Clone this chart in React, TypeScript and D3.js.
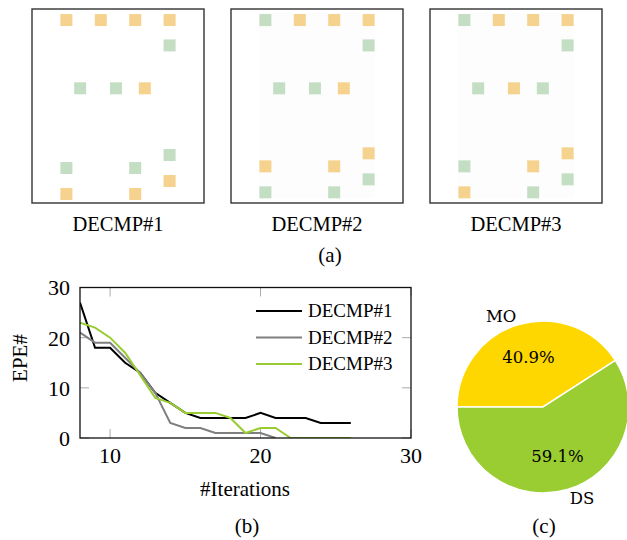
import React from 'react';
import * as d3 from 'd3';

// ---- data ----
// panel squares: [column, row, kind] with kind 'o' = orange, 'g' = green
const panel1 = [
  [1, 0.85, 'o'], [2, 0.85, 'o'], [3, 0.85, 'o'], [4, 0.85, 'o'],
  [4, 2.8, 'g'],
  [1.4, 6.1, 'g'], [2.44, 6.1, 'g'], [3.28, 6.1, 'o'],
  [4, 11.23, 'g'],
  [1, 12.23, 'g'], [3, 12.23, 'g'],
  [4, 13.23, 'o'],
  [1, 14.23, 'o'], [3, 14.23, 'o'],
];
const panel2 = [
  [1, 0.85, 'g'], [2, 0.85, 'o'], [3, 0.85, 'o'], [4, 0.85, 'o'],
  [4, 2.8, 'g'],
  [1.4, 6.1, 'g'], [2.44, 6.1, 'g'], [3.28, 6.1, 'o'],
  [4, 11.1, 'o'],
  [1, 12.1, 'o'], [3, 12.1, 'o'],
  [4, 13.1, 'g'],
  [1, 14.1, 'g'], [3, 14.1, 'g'],
];
const panel3 = [
  [1, 0.85, 'g'], [2, 0.85, 'o'], [3, 0.85, 'o'], [4, 0.85, 'o'],
  [4, 2.8, 'g'],
  [1.4, 6.1, 'g'], [2.44, 6.1, 'o'], [3.28, 6.1, 'g'],
  [4, 11.1, 'o'],
  [1, 12.1, 'g'], [3, 12.1, 'o'],
  [4, 13.1, 'g'],
  [1, 14.1, 'o'], [3, 14.1, 'g'],
];
const panelNames = ['DECMP#1', 'DECMP#2', 'DECMP#3'];

const iterations = [8, 9, 10, 11, 12, 13, 14, 15, 16, 17, 18, 19, 20, 21, 22, 23, 24, 25, 26];
const decmp1 = [27, 18, 18, 15, 13, 9, 7, 5, 4, 4, 4, 4, 5, 4, 4, 4, 3, 3, 3];
const decmp2 = [21, 19, 19, 16, 13, 9, 3, 2, 2, 1, 1, 1, 1, 0];
const decmp3 = [23, 22, 20, 17, 12.5, 8, 7, 5, 5, 5, 4, 1, 2, 2, 0, 0, 0, 0, 0];
const xTicks = [10, 20, 30];
const yTicks = [0, 10, 20, 30];

const pieLabels = ['MO', 'DS'];
const pieValues = [40.9, 59.1];

const serif = { fontFamily: 'Liberation Serif, Times New Roman, serif' };
const pieFont = { fontFamily: 'DejaVu Serif, serif' };
const sqColor = { o: '#f5d38e', g: '#c4dec4' };

const Panel = ({ left, data, name, shade }) => {
  const w = 172, h = 194, top = 9;
  const x = d3.scaleLinear().domain([0, 5]).range([0, w]);
  const y = d3.scaleLinear().domain([0, 14.92]).range([0, h]);
  const s = 12;
  return (
    <g transform={`translate(${left},${top})`}>
      <rect width={w} height={h} fill="#fff" stroke="#333" strokeWidth={1.4} />
      {shade && <rect x={x(0.81)} y={4} width={x(4.19) - x(0.81)} height={185} fill="#fdfdfd" />}
      {data.map((d, i) => (
        <rect key={i} x={x(d[0]) - s / 2} y={y(d[1]) - s / 2} width={s} height={s} fill={sqColor[d[2]]} />
      ))}
      <text x={w / 2} y={222} textAnchor="middle" style={serif} fontSize={20.5}>{name}</text>
    </g>
  );
};

const App = () => {
  // line chart
  const x = d3.scaleLinear().domain([8, 30]).range([80, 411]);
  const y = d3.scaleLinear().domain([0, 30]).range([438, 287.5]);
  const line = d3.line().x(d => x(d[0])).y(d => y(d[1]));
  const series = [
    { name: 'DECMP#1', vals: decmp1, color: '#000000' },
    { name: 'DECMP#2', vals: decmp2, color: '#7f7f7f' },
    { name: 'DECMP#3', vals: decmp3, color: '#99cc33' },
  ];
  const tickLen = 9;

  // pie chart
  const cx = 543, cy = 407, r = 86;
  const pie = d3.pie().sort(null).startAngle(-Math.PI / 2).endAngle(1.5 * Math.PI);
  const arcs = pie(pieValues);
  const arc = d3.arc().innerRadius(0).outerRadius(r);
  const pctArc = d3.arc().innerRadius(r * 0.6).outerRadius(r * 0.6);
  const lblArc = d3.arc().innerRadius(r * 1.1).outerRadius(r * 1.1);
  const pieColors = ['#ffd700', '#9acd32'];

  return (
    <svg width={627} height={540} style={{ position: 'absolute', left: 0, top: 0, background: '#fff' }}>
      {[panel1, panel2, panel3].map((p, i) => (
        <Panel key={i} left={[32, 231, 430][i]} data={p} name={panelNames[i]} shade={i > 0} />
      ))}
      <text x={330} y={262} textAnchor="middle" style={serif} fontSize={21}>(a)</text>

      {/* line chart */}
      <defs>
        <clipPath id="plotClip">
          <rect x={80} y={287.5} width={331} height={150.5} />
        </clipPath>
      </defs>
      {xTicks.map(t => (
        <g key={'x' + t}>
          <line x1={x(t)} x2={x(t)} y1={438} y2={438 - tickLen} stroke="#aaa" />
          <line x1={x(t)} x2={x(t)} y1={287.5} y2={287.5 + tickLen} stroke="#aaa" />
          <text x={x(t)} y={463} textAnchor="middle" style={serif} fontSize={22}>{t}</text>
        </g>
      ))}
      {yTicks.map(t => (
        <g key={'y' + t}>
          <line x1={80} x2={80 + tickLen} y1={y(t)} y2={y(t)} stroke="#aaa" />
          <line x1={411} x2={411 - tickLen} y1={y(t)} y2={y(t)} stroke="#aaa" />
          <text x={70} y={y(t)} dy="0.36em" textAnchor="end" style={serif} fontSize={22}>{t}</text>
        </g>
      ))}
      <g clipPath="url(#plotClip)">
        {series.map(s => (
          <path key={s.name} d={line(s.vals.map((v, i) => [iterations[i], v]))} fill="none" stroke={s.color} strokeWidth={2} />
        ))}
      </g>
      <rect x={80} y={287.5} width={331} height={150.5} fill="none" stroke="#111" strokeWidth={1.3} />
      {series.map((s, i) => (
        <g key={'lg' + i} transform={`translate(256,${311 + i * 26.5})`}>
          <line x1={0} x2={46} stroke={s.color} strokeWidth={2} />
          <text x={52} dy="0.33em" style={serif} fontSize={19}>{s.name}</text>
        </g>
      ))}
      <text transform="translate(27,358) rotate(-90)" textAnchor="middle" style={serif} fontSize={21}>EPE#</text>
      <text x={245} y={496} textAnchor="middle" style={serif} fontSize={21}>#Iterations</text>
      <text x={247} y={533} textAnchor="middle" style={serif} fontSize={21}>(b)</text>

      {/* pie chart */}
      <g transform={`translate(${cx},${cy})`}>
        {arcs.map((a, i) => (
          <path key={i} d={arc(a)} fill={pieColors[i]} stroke="#fff" strokeWidth={1.5} />
        ))}
        {arcs.map((a, i) => {
          const [px, py] = pctArc.centroid(a);
          const [lx, ly] = lblArc.centroid(a);
          return (
            <g key={'pl' + i}>
              <text x={px} y={py} dy="0.35em" textAnchor="middle" style={pieFont} fontSize={16.5}>{pieValues[i].toFixed(1)}%</text>
              <text x={lx} y={ly} dy="0.35em" textAnchor={lx < 0 ? 'end' : 'start'} style={pieFont} fontSize={16.5}>{pieLabels[i]}</text>
            </g>
          );
        })}
      </g>
      <text x={544} y={533} textAnchor="middle" style={serif} fontSize={21}>(c)</text>
    </svg>
  );
};

export default App;
